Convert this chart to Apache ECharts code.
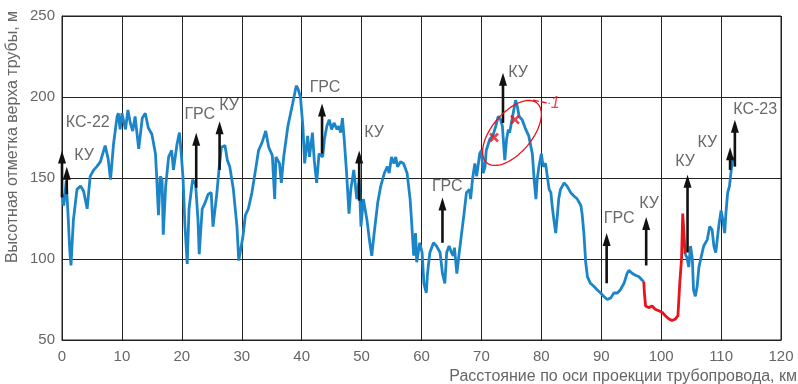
<!DOCTYPE html>
<html>
<head>
<meta charset="utf-8">
<script src="https://cdn.jsdelivr.net/npm/echarts@6/dist/echarts.min.js"></script>
<style>
html,body{margin:0;padding:0;background:#fff;}
#chart{width:798px;height:384px;}
</style>
</head>
<body>
<div id="chart"></div>
<script>
// ---- data ----
var xTicks = [0, 10, 20, 30, 40, 50, 60, 70, 80, 90, 100, 110, 120];
var yTicks = [50, 100, 150, 200, 250];

// elevation profile (distance km, elevation m) – blue part before the red section
var profileA = [
[0,140],[0.3,133],[0.7,148],[1.0,128],[1.3,105],[1.5,96],[1.9,124],[2.5,143],[3.1,145],[3.6,142],[4.2,131],[4.7,151],[5.3,155],[5.8,157],[6.4,160],[7.2,170],[7.7,162],[8.1,149],[8.6,171],[9.2,188],[9.4,190],[9.7,180],[10,190],[10.6,180],[11,192],[11.4,184],[11.8,179],[12.2,188],[12.8,168],[13.4,187],[13.9,190],[14.4,181],[15,177],[15.6,165],[15.8,151],[16.1,127],[16.4,151],[16.7,149],[16.9,115],[17.3,145],[17.8,163],[18.3,167],[18.6,155],[19.2,171],[19.6,178],[19.9,165],[20.2,150],[20.5,122],[20.9,97],[21.2,131],[21.8,149],[22.3,146],[22.7,124],[22.9,103],[23.4,131],[23.8,134],[24.4,140],[24.9,141],[25.2,120],[25.8,139],[26.2,155],[26.6,169],[27.2,170],[27.6,161],[28,157],[28.6,143],[29.2,120],[29.5,99],[29.8,99],[30.2,114],[30.6,127],[31.1,131],[31.7,141],[32.3,155],[32.8,167],[33.4,172],[34,179],[34.5,169],[35.1,164],[35.5,137],[35.7,163],[36.3,159],[36.6,147],[37,163],[37.7,182],[38.5,196],[39.1,207],[39.4,205],[39.8,200],[40.2,182],[40.5,159],[41,176],[41.3,163],[41.8,178],[42.1,161],[42.5,147],[42.9,165],[43.5,163],[43.8,174],[44.2,182],[44.6,186],[45,180],[45.4,184],[45.9,180],[46.2,182],[46.5,178],[46.8,187],[47.1,174],[47.5,153],[47.9,128],[48.2,143],[48.7,155],[49.2,137],[49.6,149],[49.9,120],[50.3,137],[50.9,124],[51.3,112],[51.7,102],[52.1,116],[52.7,135],[53.2,145],[53.8,153],[54.3,157],[54.6,153],[55,163],[55.4,159],[55.7,163],[56,157],[56.5,160],[57,159],[57.6,153],[58.1,137],[58.4,120],[58.7,102],[59,116],[59.2,98],[59.7,110],[60.1,104],[60.4,85],[60.8,79],[61,91],[61.4,104],[62,110],[62.5,108],[63.1,104],[63.5,91],[63.9,85],[64.2,104],[64.6,108],[65,104],[65.3,102],[65.5,107],[65.9,91],[66.3,104],[66.7,116],[67.1,128],[67.5,141],[68,143],[68.2,137],[68.5,149],[68.9,159],[69.2,151],[69.5,159],[69.7,165],[70,167],[70.3,153],[70.6,157],[70.8,167],[71.4,174],[71.9,176],[72.4,182],[72.8,188],[73.2,186],[73.5,182],[73.9,161],[74.2,174],[74.5,180],[74.7,178],[75,184],[75.4,192],[75.7,198],[76,194],[76.3,188],[76.8,186],[77.4,180],[77.9,176],[78.5,165],[78.8,149],[79.1,137],[79.3,149],[79.6,157],[80,165],[80.3,157],[80.7,159],[81,151],[81.3,143],[81.6,141],[81.8,133],[82.1,124],[82.4,116],[82.7,128],[82.9,137],[83.2,143],[83.8,147],[84.3,145],[84.9,141],[85.4,139],[86,137],[86.6,133],[86.8,128],[87.1,116],[87.4,98],[87.7,89],[88.2,85],[88.8,83],[89.3,81],[89.9,79],[90.4,77],[91,75],[91.6,76],[92.1,79],[92.7,79],[93.2,81],[93.8,85],[94.3,91],[94.6,93],[95.2,91],[95.7,90],[96.3,89],[96.8,87],[97.1,86]
];
// red section
var profileRed = [
[97.1,86],[97.2,79],[97.4,71],[97.9,70],[98.5,71],[99,69],[99.6,68],[100.2,67],[100.7,65],[101.3,63],[101.8,62],[102.4,63],[102.8,65],[103.1,85],[103.4,100],[103.6,128],[103.8,116],[104,103]
];
// blue part after the red section
var profileB = [
[104,103],[104.3,101],[104.6,95],[104.9,108],[105.2,100],[105.4,81],[105.7,77],[106,83],[106.3,95],[106.6,100],[107.1,108],[107.7,112],[108.1,120],[108.5,118],[108.8,108],[109.1,104],[109.3,110],[109.6,120],[110,130],[110.3,124],[110.6,116],[110.8,128],[111.1,141],[111.4,145],[111.7,155],[112,163]
];

// arrows: x position, bottom elevation, tip elevation
var arrowX    = [0,   0.8, 22.4, 26.3, 43.4, 49.6, 63.5, 73.6, 90.9, 97.5, 104.4, 111.5, 112.3];
var arrowBase = [138, 140, 144,  155,  165,  136,  110,  184,  85,   96,   104,   155,   157];
var arrowTip  = [167, 157, 178,  185,  196,  167,  138,  215,  116,  126,  152,   169,   186];

// text labels
var labelText = ['КС-22','КУ','ГРС','КУ','ГРС','КУ','ГРС','КУ','ГРС','КУ','КУ','КУ','КС-23'];
var labelX    = [4.3,    3.7, 23.0, 27.9, 43.9, 52.1, 64.3, 76.1, 93.0, 98.0, 104.0, 107.7, 115.7];
var labelY    = [184,    164, 189,  195,  205.5,178,  145,  215,  125,  134.5,160,  172,   192];

// crosses inside the marked zone and the zone ellipse
var crossPts = [[72.1,175],[75.6,186]];
var zoneCenter = [75.1, 177.8];
var zoneLeader = [[78.6,198],[81.4,196]];
var zoneLabel = [[82.3,196,'1']];

var chart = echarts.init(document.getElementById('chart'), null, {renderer:'canvas'});

var FONT = '"Liberation Sans", Arial, sans-serif';
var BLUE = '#1c85c8';
var RED = '#e8131b';

var option = {
  animation: false,
  backgroundColor: '#fff',
  grid: {left: 62, right: 17, top: 16, bottom: 44, containLabel: false},
  xAxis: {
    type: 'value', min: 0, max: 120, interval: 10,
    axisLine: {show: true, lineStyle: {color: '#222', width: 1}},
    axisTick: {show: false},
    splitLine: {show: true, lineStyle: {color: '#222', width: 1}},
    axisLabel: {color: '#666', fontSize: 15, fontFamily: FONT, margin: 9}
  },
  yAxis: {
    type: 'value', min: 50, max: 250, interval: 50,
    axisLine: {show: true, lineStyle: {color: '#222', width: 1}},
    axisTick: {show: false},
    splitLine: {show: true, lineStyle: {color: '#222', width: 1}},
    axisLabel: {color: '#666', fontSize: 15, fontFamily: FONT, margin: 7}
  },
  graphic: [
    {type: 'rect', shape: {x: 62, y: 16, width: 719, height: 324}, style: {fill: 'none', stroke: '#222', lineWidth: 1}, silent: true, z: 1},
    {type: 'text', x: 13, y: 137, rotation: Math.PI/2, style: {text: 'Высотная отметка верха трубы, м', fill: '#666', font: '16px ' + FONT, align: 'center', verticalAlign: 'middle'}},
    {type: 'text', x: 797, y: 377, style: {text: 'Расстояние по оси проекции трубопровода, км', fill: '#666', font: '16px ' + FONT, align: 'right', verticalAlign: 'middle'}}
  ],
  series: [
    {type: 'line', data: profileA, showSymbol: false, lineStyle: {color: BLUE, width: 2.8}, z: 3},
    {type: 'line', data: profileRed, showSymbol: false, lineStyle: {color: RED, width: 2.8}, z: 3},
    {type: 'line', data: profileB, showSymbol: false, lineStyle: {color: BLUE, width: 2.8}, z: 3},
    {
      type: 'custom', z: 5,
      data: arrowX.map(function (x, i) { return [x, arrowBase[i], arrowTip[i]]; }),
      renderItem: function (params, api) {
        var p0 = api.coord([api.value(0), api.value(1)]);
        var p1 = api.coord([api.value(0), api.value(2)]);
        var headL = 13, headW = 4;
        return {
          type: 'group',
          children: [
            {type: 'line', shape: {x1: p0[0], y1: p0[1], x2: p1[0], y2: p1[1] + headL - 2}, style: {stroke: '#111', lineWidth: 2.6}},
            {type: 'polygon', shape: {points: [[p1[0], p1[1]], [p1[0] - headW, p1[1] + headL], [p1[0] + headW, p1[1] + headL]]}, style: {fill: '#111'}}
          ]
        };
      }
    },
    {
      type: 'scatter', symbolSize: 0, z: 6,
      data: labelX.map(function (x, i) { return {value: [x, labelY[i]], name: labelText[i]}; }),
      label: {show: true, position: 'inside', formatter: '{b}', color: '#444', fontSize: 16, fontFamily: FONT}
    },
    {
      type: 'scatter', z: 7, data: crossPts,
      symbol: 'path://M0,0 L10,10 M10,0 L0,10', symbolSize: 8,
      itemStyle: {color: 'none', borderColor: RED, borderWidth: 2.5}
    },
    {
      type: 'custom', z: 7,
      data: [zoneCenter],
      renderItem: function (params, api) {
        var c = api.coord([api.value(0), api.value(1)]);
        var a = 39, b = 20, th = 50 * Math.PI / 180, pts = [];
        for (var k = 0; k <= 72; k++) {
          var f = k / 72 * Math.PI * 2;
          pts.push([c[0] + a * Math.cos(f) * Math.cos(th) - b * Math.sin(f) * Math.sin(th),
                    c[1] - (a * Math.cos(f) * Math.sin(th) + b * Math.sin(f) * Math.cos(th))]);
        }
        return {type: 'polyline', shape: {points: pts}, style: {stroke: RED, lineWidth: 1.3, fill: 'none'}};
      }
    },
    {
      type: 'custom', z: 7,
      data: [[zoneLeader[0][0], zoneLeader[0][1], zoneLeader[1][0], zoneLeader[1][1]]],
      renderItem: function (params, api) {
        var a = api.coord([api.value(0), api.value(1)]);
        var b = api.coord([api.value(2), api.value(3)]);
        return {type: 'line', shape: {x1: a[0], y1: a[1], x2: b[0], y2: b[1]}, style: {stroke: RED, lineWidth: 1.3, lineDash: [6, 2]}};
      }
    },
    {
      type: 'scatter', symbolSize: 0, z: 7,
      data: zoneLabel.map(function (d) { return {value: [d[0], d[1]], name: d[2]}; }),
      label: {show: true, position: 'inside', formatter: '{b}', color: RED, fontSize: 16, fontStyle: 'italic', fontFamily: FONT}
    }
  ]
};
chart.setOption(option);
</script>
</body>
</html>
